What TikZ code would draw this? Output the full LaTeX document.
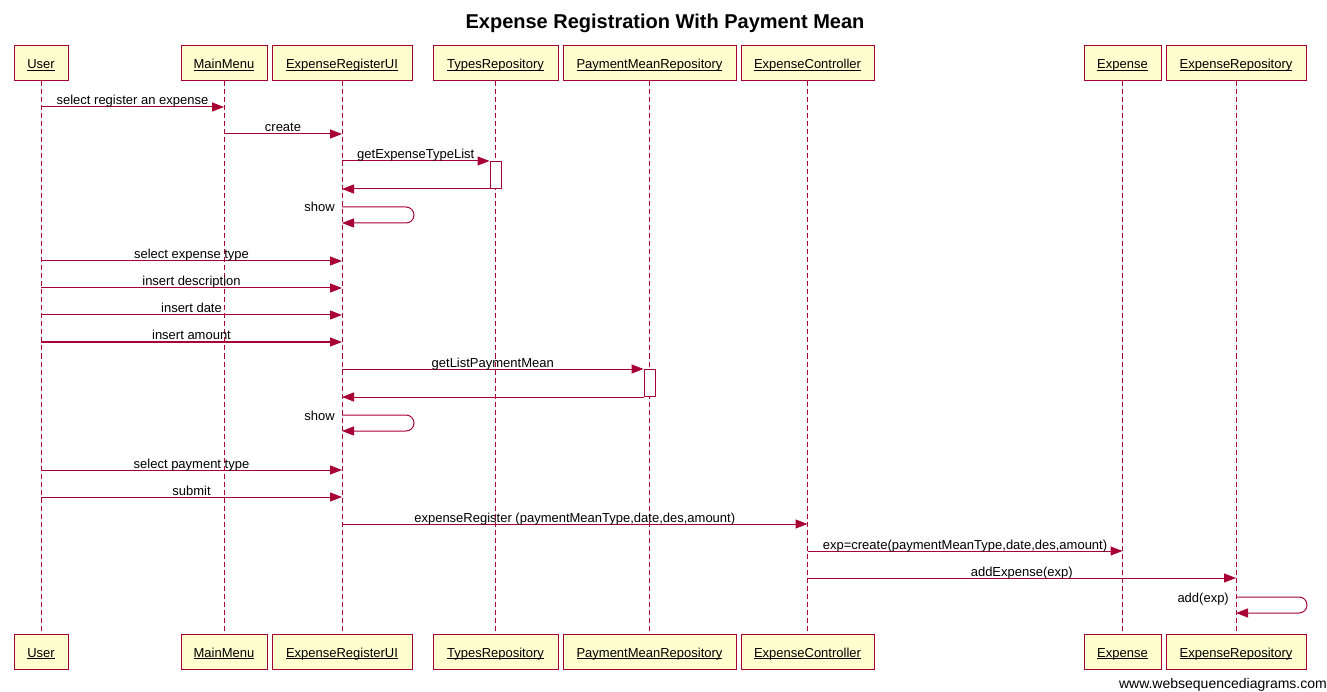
\documentclass[tikz,border=0pt]{standalone}
\usepackage{fontspec}
\setmainfont{Liberation Sans}
\usetikzlibrary{arrows.meta,calc}
\definecolor{wsdred}{HTML}{A80036}
\definecolor{wsdfill}{HTML}{FEFECE}
\newsavebox\myulbox
\newcommand\myul[1]{\sbox\myulbox{#1}\rlap{\rule[-2.2pt]{\wd\myulbox}{0.8pt}}\usebox\myulbox}
\begin{document}
\begin{tikzpicture}[x=1pt,y=-1pt,
 part/.style={draw=wsdred,fill=wsdfill,minimum height=35pt,inner sep=0pt,text height=11pt,text depth=0pt,font=\fontsize{13}{15}\selectfont,line width=1pt},
 life/.style={draw=wsdred,dash pattern=on 5pt off 3pt,line width=1pt},
 msg/.style={draw=wsdred,line width=1pt,-{Triangle[length=12pt,width=9pt]}},
 selfmsg/.style={msg,rounded corners=8pt},
 lbl/.style={font=\fontsize{13}{15}\selectfont,inner sep=0pt},
 mlbl/.style={lbl,anchor=base,yshift=2pt},
 act/.style={draw=wsdred,fill=white,minimum width=11pt,inner sep=0pt,line width=1pt}
]
\fill[white] (0,0) rectangle (1327,692);
\useasboundingbox (0,0) rectangle (1327,692);

\node[font=\bfseries\fontsize{20}{24}\selectfont] (title) at (665,23) {Expense Registration With Payment Mean};

% top participants
\node[part,minimum width=54pt]  (User)  at (41,63.5)    {\myul{User}};
\node[part,minimum width=86pt]  (MM)    at (224,63.5)   {\myul{MainMenu}};
\node[part,minimum width=140pt] (UI)    at (342,63.5)   {\myul{ExpenseRegisterUI}};
\node[part,minimum width=125pt] (TR)    at (495.5,63.5) {\myul{TypesRepository}};
\node[part,minimum width=173pt] (PMR)   at (649.5,63.5) {\myul{PaymentMeanRepository}};
\node[part,minimum width=133pt] (EC)    at (807.5,63.5) {\myul{ExpenseController}};
\node[part,minimum width=77pt]  (EX)    at (1122.5,63.5){\myul{Expense}};
\node[part,minimum width=140pt] (ER)    at (1236,63.5)  {\myul{ExpenseRepository}};
% bottom participants
\node[part,minimum width=54pt]  (Userb) at (41,651.5)    {\myul{User}};
\node[part,minimum width=86pt]  (MMb)   at (224,651.5)   {\myul{MainMenu}};
\node[part,minimum width=140pt] (UIb)   at (342,651.5)   {\myul{ExpenseRegisterUI}};
\node[part,minimum width=125pt] (TRb)   at (495.5,651.5) {\myul{TypesRepository}};
\node[part,minimum width=173pt] (PMRb)  at (649.5,651.5) {\myul{PaymentMeanRepository}};
\node[part,minimum width=133pt] (ECb)   at (807.5,651.5) {\myul{ExpenseController}};
\node[part,minimum width=77pt]  (EXb)   at (1122.5,651.5){\myul{Expense}};
\node[part,minimum width=140pt] (ERb)   at (1236,651.5)  {\myul{ExpenseRepository}};

% lifelines
\foreach \p in {User,MM,UI,TR,PMR,EC,EX,ER}{
  \draw[life] (\p.south) -- (\p b.north);
}

% activations
\node[act,minimum height=27pt,anchor=north] (act1) at (TR.south |- 0,161) {};
\node[act,minimum height=27pt,anchor=north] (act2) at (PMR.south |- 0,369) {};

% messages
\draw[msg] (User.south |- 0,107) -- (MM.south |- 0,107) node[mlbl,midway] {select register an expense};
\draw[msg] (MM.south |- 0,134) -- (UI.south |- 0,134) node[mlbl,midway] {create};
\draw[msg] (UI.south |- act1.north west) -- (act1.north west) node[mlbl,midway] {getExpenseTypeList};
\draw[msg] (act1.south west) -- (UI.south |- act1.south west);
\draw[selfmsg] (UI.south |- 0,207) -- ++(72,0) -- ++(0,16) -- (UI.south |- 0,223);
\node[lbl,anchor=base east] (show1) at ($(UI.south |- 0,212)+(-7,0)$) {show};

\draw[msg] (User.south |- 0,261) -- (UI.south |- 0,261) node[mlbl,midway] {select expense type};
\draw[msg] (User.south |- 0,288) -- (UI.south |- 0,288) node[mlbl,midway] {insert description};
\draw[msg] (User.south |- 0,315) -- (UI.south |- 0,315) node[mlbl,midway] {insert date};
\draw[msg] (User.south |- 0,342) -- (UI.south |- 0,342) node[mlbl,midway] {insert amount};

\draw[msg] (UI.south |- act2.north west) -- (act2.north west) node[mlbl,midway] {getListPaymentMean};
\draw[msg] (act2.south west) -- (UI.south |- act2.south west);
\draw[selfmsg] (UI.south |- 0,415) -- ++(72,0) -- ++(0,16) -- (UI.south |- 0,431);
\node[lbl,anchor=base east] (show2) at ($(UI.south |- 0,420)+(-7,0)$) {show};

\draw[msg] (User.south |- 0,470) -- (UI.south |- 0,470) node[mlbl,midway] {select payment type};
\draw[msg] (User.south |- 0,497) -- (UI.south |- 0,497) node[mlbl,midway] {submit};
\draw[msg] (UI.south |- 0,524) -- (EC.south |- 0,524) node[mlbl,midway] {expenseRegister (paymentMeanType,date,des,amount)};
\draw[msg] (EC.south |- 0,551) -- (EX.south |- 0,551) node[mlbl,midway] {exp=create(paymentMeanType,date,des,amount)};
\draw[msg] (EC.south |- 0,578) -- (ER.south |- 0,578) node[mlbl,midway] {addExpense(exp)};
\draw[selfmsg] (ER.south |- 0,597) -- ++(71,0) -- ++(0,16) -- (ER.south |- 0,613);
\node[lbl,anchor=base east] (add) at ($(ER.south |- 0,602)+(-7,0)$) {add(exp)};

\node[anchor=base east,inner sep=0pt,font=\fontsize{14}{16}\selectfont] (footer) at (1327,688) {www.websequencediagrams.com};
\end{tikzpicture}
\end{document}
